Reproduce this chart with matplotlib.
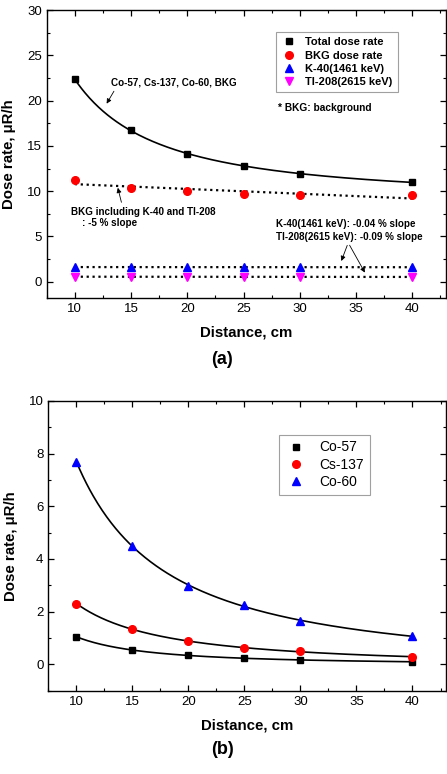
import numpy as np
import matplotlib
matplotlib.use('Agg')
import matplotlib.pyplot as plt
from matplotlib.ticker import MultipleLocator

plt.rcParams['font.family'] = ['Liberation Sans', 'DejaVu Sans']

# data
distance = [10, 15, 20, 25, 30, 40]

total_dose = [22.34, 16.70, 14.13, 12.80, 11.89, 11.00]
bkg_dose = [11.26, 10.34, 10.00, 9.71, 9.57, 9.53]
k40_dose = [1.62, 1.61, 1.61, 1.60, 1.61, 1.60]
tl208_dose = [0.55, 0.54, 0.54, 0.55, 0.53, 0.52]

co57 = [1.05, 0.54, 0.34, 0.24, 0.16, 0.10]
cs137 = [2.31, 1.34, 0.88, 0.62, 0.49, 0.29]
co60 = [7.70, 4.49, 2.98, 2.25, 1.64, 1.07]


def fit_power(x, y):
    # y = y0 + A*x^-n, grid search on n, linear least squares for y0, A
    x = np.asarray(x, float)
    y = np.asarray(y, float)
    best = None
    for n in np.linspace(0.2, 6, 3000):
        M = np.column_stack([np.ones_like(x), x ** -n])
        coef = np.linalg.lstsq(M, y, rcond=None)[0]
        r = np.sum((M @ coef - y) ** 2)
        if best is None or r < best[0]:
            best = (r, n, coef)
    _, n, coef = best
    return lambda xx: coef[0] + coef[1] * np.asarray(xx, float) ** -n


xs = np.linspace(10, 40, 300)
arrow = dict(arrowstyle='-|>', color='black', lw=0.6, mutation_scale=7)

fig = plt.figure(figsize=(4.47, 7.74), dpi=100)

# ---------- (a) ----------
ax1 = fig.add_axes([0.1045, 0.615, 0.8935, 0.372])
ax1.plot(distance, total_dose, 's', color='black', ms=5, label='Total dose rate', zorder=3)
ax1.plot(distance, bkg_dose, 'o', color='red', ms=5.5, label='BKG dose rate', zorder=3)
ax1.plot(distance, k40_dose, '^', color='blue', ms=5.5, label='K-40(1461 keV)', zorder=3)
ax1.plot(distance, tl208_dose, 'v', color='magenta', ms=5.5, label='TI-208(2615 keV)', zorder=3)

ax1.plot(xs, fit_power(distance, total_dose)(xs), color='black', lw=1.2)
for ser in (bkg_dose, k40_dose, tl208_dose):
    p = np.polyfit(distance, ser, 1)
    ax1.plot(xs, np.polyval(p, xs), ':', color='black', lw=1.6)

ax1.set_xlim(7.5, 43)
ax1.set_ylim(-1.8, 30)
ax1.yaxis.set_major_locator(MultipleLocator(5))
ax1.yaxis.set_minor_locator(MultipleLocator(2.5))
ax1.set_xticks([10, 15, 20, 25, 30, 35, 40])
ax1.xaxis.set_minor_locator(MultipleLocator(2.5))

leg1 = ax1.legend(loc='upper left', bbox_to_anchor=(0.574, 0.9226), prop={'weight': 'bold', 'size': 8},
                  frameon=True, fancybox=False, edgecolor='#888888', handletextpad=0.7,
                  labelspacing=0.3, borderpad=0.45, handlelength=1.5, borderaxespad=0)
leg1.get_frame().set_linewidth(0.8)
ax1.text(0.579, 0.66, '* BKG: background', transform=ax1.transAxes, fontsize=7.3,
         fontweight='bold', va='center')

ax1.text(18.76, 22.04, 'Co-57, Cs-137, Co-60, BKG', fontsize=7.1, fontweight='bold', ha='center', va='center')
ax1.annotate('', xy=(12.7, 19.4), xytext=(13.6, 21.3), arrowprops=arrow)

ax1.text(9.62, 7.69, 'BKG including K-40 and TI-208', fontsize=7.1, fontweight='bold', va='center')
ax1.text(10.66, 6.48, ': -5 % slope', fontsize=7.1, fontweight='bold', va='center')
ax1.annotate('', xy=(13.76, 10.67), xytext=(14.2, 8.47), arrowprops=arrow)

ax1.text(27.9, 6.34, 'K-40(1461 keV): -0.04 % slope', fontsize=7.1, fontweight='bold', va='center')
ax1.text(27.9, 4.97, 'TI-208(2615 keV): -0.09 % slope', fontsize=7.1, fontweight='bold', va='center')
ax1.annotate('', xy=(33.6, 2.0), xytext=(34.3, 4.3), arrowprops=arrow)
ax1.annotate('', xy=(35.9, 0.74), xytext=(34.3, 4.3), arrowprops=arrow)

# ---------- (b) ----------
ax2 = fig.add_axes([0.108, 0.1076, 0.89, 0.3744])
ax2.plot(distance, co57, 's', color='black', ms=5, label='Co-57', zorder=3)
ax2.plot(distance, cs137, 'o', color='red', ms=5.5, label='Cs-137', zorder=3)
ax2.plot(distance, co60, '^', color='blue', ms=5.5, label='Co-60', zorder=3)
for ser in (co57, cs137, co60):
    ax2.plot(xs, fit_power(distance, ser)(xs), color='black', lw=1.2)

ax2.set_xlim(7.5, 43)
ax2.set_ylim(-1, 10)
ax2.yaxis.set_major_locator(MultipleLocator(2))
ax2.yaxis.set_minor_locator(MultipleLocator(1))
ax2.set_xticks([10, 15, 20, 25, 30, 35, 40])
ax2.xaxis.set_minor_locator(MultipleLocator(2.5))

leg2 = ax2.legend(loc='upper left', bbox_to_anchor=(0.581, 0.883), prop={'size': 10},
                  frameon=True, fancybox=False, edgecolor='#888888', handletextpad=0.9,
                  labelspacing=0.25, borderpad=0.4, handlelength=1.6, borderaxespad=0)
leg2.get_frame().set_linewidth(0.8)

for ax in (ax1, ax2):
    ax.tick_params(which='both', direction='in', top=True, right=True, labelsize=9.5)
    ax.tick_params(which='major', length=4, width=0.9)
    ax.tick_params(which='minor', length=2, width=0.8)
    for s in ax.spines.values():
        s.set_linewidth(1.0)
    ax.set_xlabel('Distance, cm', fontsize=10.8, fontweight='bold', labelpad=8)
    ax.set_ylabel('Dose rate, μR/h', fontsize=10.8, fontweight='bold')
    ax.yaxis.set_label_coords(-0.077, 0.5)

fig.text(0.497, 1 - 360 / 774, '(a)', fontsize=13, fontweight='bold', ha='center', va='center')
fig.text(0.497, 1 - 750 / 774, '(b)', fontsize=13, fontweight='bold', ha='center', va='center')

fig.savefig('out.png', dpi=100)
